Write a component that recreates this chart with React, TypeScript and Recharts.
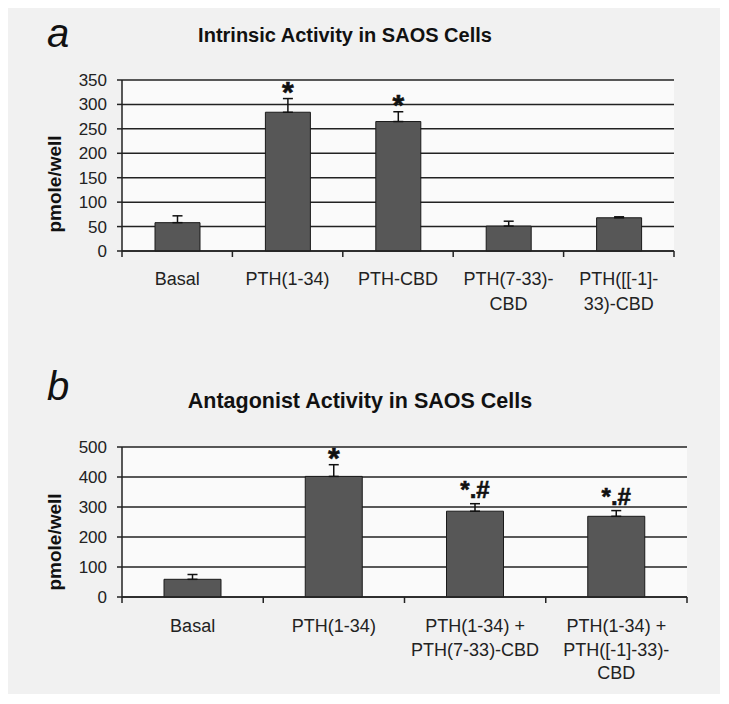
import React from "react";
import {
  BarChart,
  Bar,
  XAxis,
  YAxis,
  CartesianGrid,
  ErrorBar,
  LabelList,
} from "recharts";

// panel a: intrinsic activity
const LABELS_A = [["Basal"], ["PTH(1-34)"], ["PTH-CBD"], ["PTH(7-33)-", "CBD"], ["PTH([[-1]-", "33)-CBD"]];
const VALUES_A = [58, 284, 265, 51, 68];
const ERRORS_A = [14, 28, 20, 10, 2];
const MARKS_A = ["", "*", "*", "", ""];
const TICKS_A = [0, 50, 100, 150, 200, 250, 300, 350];

// panel b: antagonist activity
const LABELS_B = [["Basal"], ["PTH(1-34)"], ["PTH(1-34) +", "PTH(7-33)-CBD"], ["PTH(1-34) +", "PTH([-1]-33)-", "CBD"]];
const VALUES_B = [59, 402, 286, 269];
const ERRORS_B = [16, 39, 25, 19];
const MARKS_B = ["", "*", "*.#", "*.#"];
const TICKS_B = [0, 100, 200, 300, 400, 500];

const FONT = "'Liberation Sans', Arial, sans-serif";
const INK = "#222";

type Row = { name: string; value: number; err: number[]; mark: string };

const buildRows = (labels: string[][], values: number[], errors: number[], marks: string[]): Row[] =>
  labels.map((l, i) => ({ name: l.join("\n"), value: values[i], err: [0, errors[i]], mark: marks[i] }));

interface PanelProps {
  rows: Row[];
  ticks: number[];
  width: number;
  height: number;
  margin: { top: number; right: number; bottom: number; left: number };
  barSize: number;
  axisHeight: number;
  firstLine: number;
  lineGap: number;
  style: React.CSSProperties;
}

const Y_WIDTH = 60;

function Panel({ rows, ticks, width, height, margin, barSize, axisHeight, firstLine, lineGap, style }: PanelProps) {
  const plotW = width - margin.left - Y_WIDTH - margin.right;
  const band = plotW / rows.length;

  const XTick = (props: any) => {
    const { x, y, payload, index } = props;
    const lines = String(payload.value).split("\n");
    return (
      <g>
        <line x1={x - band / 2} x2={x - band / 2} y1={y} y2={y + 6} stroke={INK} strokeWidth={1.5} />
        {index === rows.length - 1 && (
          <line x1={x + band / 2} x2={x + band / 2} y1={y} y2={y + 6} stroke={INK} strokeWidth={1.5} />
        )}
        <text x={x} y={y + firstLine} textAnchor="middle" fontFamily={FONT} fontSize={18} fill={INK}>
          {lines.map((t, i) => (
            <tspan key={i} x={x} dy={i === 0 ? 0 : lineGap}>
              {t}
            </tspan>
          ))}
        </text>
      </g>
    );
  };

  const Mark = (props: any) => {
    const { x, y, width: w, height: h, index } = props;
    const row = rows[index];
    if (!row || !row.mark) return null;
    const top = y - (row.err[1] * h) / row.value;
    const single = row.mark === "*";
    return (
      <text
        x={x + w / 2}
        y={single ? top + 3 : top - 6}
        textAnchor="middle"
        fontFamily={FONT}
        fontWeight="bold"
        fontSize={single ? 30 : 24}
        fill="#111"
        stroke="#111"
        strokeWidth={0.6}
      >
        {row.mark}
      </text>
    );
  };

  return (
    <div style={{ position: "absolute", ...style }}>
      <BarChart width={width} height={height} data={rows} margin={margin}>
        <CartesianGrid vertical={false} stroke={INK} strokeWidth={1.5} fill="#fafafa" fillOpacity={1} />
        <XAxis
          dataKey="name"
          height={axisHeight}
          tickLine={false}
          tickSize={0}
          tickMargin={0}
          interval={0}
          axisLine={{ stroke: INK, strokeWidth: 1.5 }}
          tick={<XTick />}
        />
        <YAxis
          width={Y_WIDTH}
          domain={[ticks[0], ticks[ticks.length - 1]]}
          ticks={ticks}
          interval={0}
          tickSize={5}
          tickMargin={10}
          axisLine={{ stroke: INK, strokeWidth: 1.5 }}
          tickLine={{ stroke: INK, strokeWidth: 1.5 }}
          tick={{ fill: INK, fontSize: 17, fontFamily: FONT }}
        />
        <YAxis
          yAxisId="r"
          orientation="right"
          width={0}
          tick={false}
          tickLine={false}
          domain={[ticks[0], ticks[ticks.length - 1]]}
          axisLine={{ stroke: INK, strokeWidth: 1.5 }}
        />
        <Bar dataKey="value" barSize={barSize} fill="#575757" stroke="#1a1a1a" strokeWidth={1} isAnimationActive={false}>
          <ErrorBar dataKey="err" direction="y" width={5} stroke="#111" strokeWidth={1.5} />
          <LabelList dataKey="mark" content={<Mark />} />
        </Bar>
      </BarChart>
    </div>
  );
}

export default function App() {
  const rowsA = buildRows(LABELS_A, VALUES_A, ERRORS_A, MARKS_A);
  const rowsB = buildRows(LABELS_B, VALUES_B, ERRORS_B, MARKS_B);
  return (
    <div style={{ position: "relative", width: 712, height: 686, background: "#f1f1f1", fontFamily: FONT }}>
      <Panel
        rows={rowsA}
        ticks={TICKS_A}
        width={712}
        height={320}
        margin={{ top: 72, right: 46, bottom: 7, left: 54 }}
        barSize={45}
        axisHeight={70}
        firstLine={34}
        lineGap={25}
        style={{ left: 0, top: 0 }}
      />
      <Panel
        rows={rowsB}
        ticks={TICKS_B}
        width={712}
        height={348}
        margin={{ top: 109, right: 33, bottom: 9, left: 54 }}
        barSize={57}
        axisHeight={80}
        firstLine={35}
        lineGap={23.5}
        style={{ left: 0, top: 330 }}
      />
      <svg width={712} height={686} style={{ position: "absolute", left: 0, top: 0, pointerEvents: "none" }}>
        <text x={39} y={39} fontFamily={FONT} fontStyle="italic" fontSize={40} fill="#111">a</text>
        <text x={337} y={34} textAnchor="middle" fontFamily={FONT} fontWeight="bold" fontSize={20} fill="#111">
          Intrinsic Activity in SAOS Cells
        </text>
        <text x={39} y={392} fontFamily={FONT} fontStyle="italic" fontSize={40} fill="#111">b</text>
        <text x={352} y={400} textAnchor="middle" fontFamily={FONT} fontWeight="bold" fontSize={21.5} fill="#111">
          Antagonist Activity in SAOS Cells
        </text>
        <text
          transform="translate(46,176) rotate(-90)"
          textAnchor="middle"
          dominantBaseline="central"
          fontFamily={FONT}
          fontWeight="bold"
          fontSize={19}
          fill="#111"
        >
          pmole/well
        </text>
        <text
          transform="translate(46,534) rotate(-90)"
          textAnchor="middle"
          dominantBaseline="central"
          fontFamily={FONT}
          fontWeight="bold"
          fontSize={19}
          fill="#111"
        >
          pmole/well
        </text>
      </svg>
    </div>
  );
}
